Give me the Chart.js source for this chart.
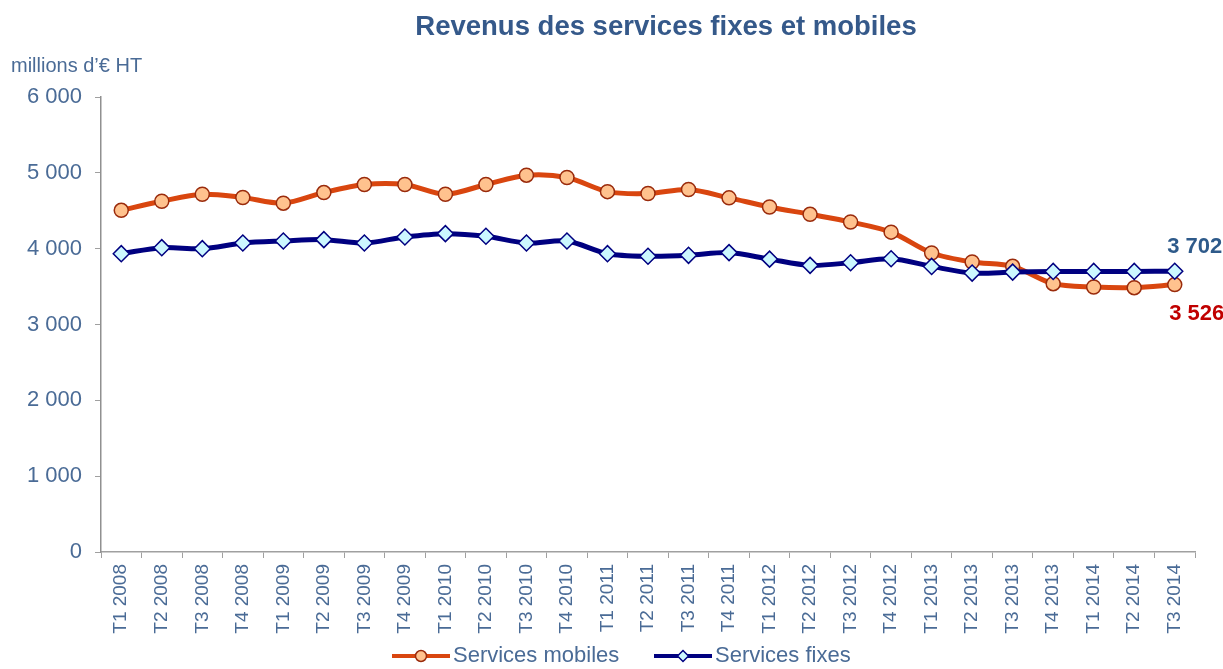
<!DOCTYPE html>
<html><head><meta charset="utf-8">
<script src="https://cdn.jsdelivr.net/npm/chart.js@4"></script>
<style>html,body{margin:0;padding:0;background:#fff;overflow:hidden}canvas{display:block}</style>
</head><body>
<canvas id="c" width="1223" height="669"></canvas>
<script>
const categories = ['T1 2008','T2 2008','T3 2008','T4 2008','T1 2009','T2 2009','T3 2009','T4 2009',
  'T1 2010','T2 2010','T3 2010','T4 2010','T1 2011','T2 2011','T3 2011','T4 2011',
  'T1 2012','T2 2012','T3 2012','T4 2012','T1 2013','T2 2013','T3 2013','T4 2013',
  'T1 2014','T2 2014','T3 2014'];
const servicesMobiles = [4506,4625,4718,4675,4600,4740,4846,4846,4718,4846,4969,4938,4752,4727,4780,4670,
  4550,4453,4352,4218,3943,3824,3767,3538,3494,3486,3526];
const servicesFixes = [3934,4013,4000,4074,4101,4119,4074,4154,4198,4163,4074,4101,3934,3900,3912,3948,
  3862,3780,3815,3867,3766,3678,3691,3700,3700,3700,3702];
const seriesNames = ['Services mobiles','Services fixes'];
const yTickValues = [0,1000,2000,3000,4000,5000,6000];
const chartTitle = 'Revenus des services fixes et mobiles';
const unitLabel = 'millions d\u2019\u20ac HT';

const FONT = "'Liberation Sans', Arial, sans-serif";
const TXT = '#4A6B96';
const fmt = n => String(n).replace(/\B(?=(\d{3})+(?!\d))/g, ' ');
Chart.defaults.font.family = FONT;

const decor = {
  id: 'decor',
  afterDraw(chart) {
    const ctx = chart.ctx;
    ctx.save();
    // title
    ctx.fillStyle = '#35598A';
    ctx.font = 'bold 27.5px ' + FONT;
    ctx.textAlign = 'center';
    ctx.textBaseline = 'alphabetic';
    ctx.fillText(chartTitle, 666, 35);
    // unit
    ctx.fillStyle = TXT;
    ctx.font = '20px ' + FONT;
    ctx.textAlign = 'left';
    ctx.fillText(unitLabel, 11, 72);
    // end labels
    const endCfg = [{ds: 0, dx: 22, dy: 29, color: '#C00000'}, {ds: 1, dx: 20, dy: -24, color: '#2E5A8A'}];
    ctx.font = 'bold 22px ' + FONT;
    ctx.textAlign = 'center';
    ctx.textBaseline = 'middle';
    endCfg.forEach(c => {
      const meta = chart.getDatasetMeta(c.ds);
      const pt = meta.data[meta.data.length - 1];
      const data = chart.data.datasets[c.ds].data;
      ctx.fillStyle = c.color;
      ctx.fillText(fmt(data[data.length - 1]), pt.x + c.dx, pt.y + c.dy);
    });
    // legend
    const legX = [392, 654];
    const ly = 656;
    chart.data.datasets.forEach((ds, i) => {
      const x0 = legX[i];
      ctx.strokeStyle = ds.borderColor;
      ctx.lineWidth = 4;
      ctx.beginPath();
      ctx.moveTo(x0, ly);
      ctx.lineTo(x0 + 58, ly);
      ctx.stroke();
      ctx.fillStyle = ds.pointBackgroundColor;
      ctx.strokeStyle = ds.pointBorderColor;
      ctx.lineWidth = 1.5;
      Chart.helpers.drawPoint(ctx, {pointStyle: ds.pointStyle, radius: 5.5, rotation: 0, borderWidth: 1.5}, x0 + 29, ly);
      ctx.fillStyle = TXT;
      ctx.font = '22px ' + FONT;
      ctx.textAlign = 'left';
      ctx.textBaseline = 'middle';
      ctx.fillText(ds.label, x0 + 61, ly);
    });
    ctx.restore();
  }
};

new Chart(document.getElementById('c'), {
  type: 'line',
  data: {
    labels: categories,
    datasets: [
      {
        label: seriesNames[0], data: servicesMobiles, order: 2,
        borderColor: '#D9460F', borderWidth: 5, tension: 0.3,
        pointStyle: 'circle', pointRadius: 7, pointBackgroundColor: '#FFC28E',
        pointBorderColor: '#9A2B0C', pointBorderWidth: 1.5
      },
      {
        label: seriesNames[1], data: servicesFixes, order: 1,
        borderColor: '#000080', borderWidth: 5, tension: 0.3,
        pointStyle: 'rectRot', pointRadius: 8, pointBackgroundColor: '#CCF7FF',
        pointBorderColor: '#000080', pointBorderWidth: 1.5
      }
    ]
  },
  options: {
    responsive: false,
    animation: false,
    layout: {padding: {top: 97, right: 28, bottom: 0, left: 0}},
    plugins: {legend: {display: false}, title: {display: false}, tooltip: {enabled: false}},
    scales: {
      x: {
        type: 'category', offset: true,
        afterFit: s => { s.height = 117; },
        grid: {display: true, offset: true, drawOnChartArea: false, drawTicks: true, tickLength: 6, color: '#A0A0A0'},
        border: {display: true, color: '#A0A0A0', width: 1.5},
        ticks: {autoSkip: false, minRotation: 90, maxRotation: 90, padding: 6, color: TXT, font: {size: 19, family: FONT}}
      },
      y: {
        min: 0, max: 6000,
        afterFit: s => { s.width = 101; },
        afterBuildTicks: s => { s.ticks = yTickValues.map(v => ({value: v})); },
        grid: {display: true, drawOnChartArea: false, drawTicks: true, tickLength: 6, color: '#A0A0A0'},
        border: {display: true, color: '#909090', width: 1.5},
        ticks: {padding: 13, color: TXT, font: {size: 22, family: FONT}, callback: v => fmt(v)}
      }
    }
  },
  plugins: [decor]
});
</script>
</body></html>
